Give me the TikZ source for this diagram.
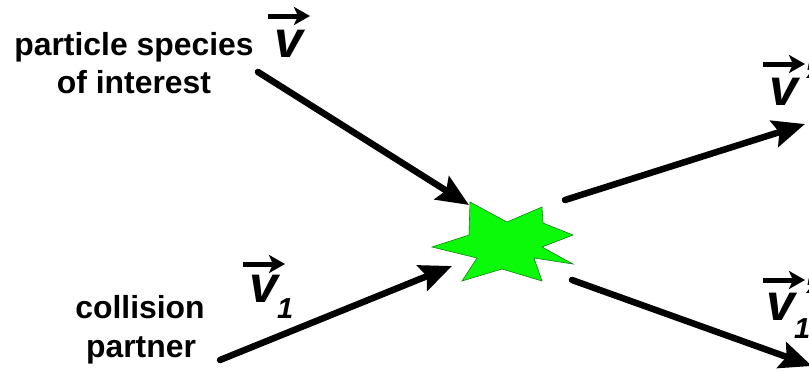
\documentclass[tikz,border=0pt]{standalone}
\usepackage{fontspec}
\setmainfont{Liberation Sans}
\usetikzlibrary{arrows.meta}
\definecolor{burstgreen}{RGB}{10,250,10}
\definecolor{burstedge}{RGB}{20,130,20}
\tikzset{
  lbl/.style={font=\fontsize{32}{32}\bfseries\selectfont,text=black,anchor=base,inner sep=0pt},
  vsym/.style={font=\fontsize{52}{52}\bfseries\itshape\selectfont,anchor=base west,inner sep=0pt},
  vsub/.style={font=\fontsize{29}{29}\bfseries\itshape\selectfont,anchor=base west,inner sep=0pt},
  flow/.style={line width=6.5bp,line cap=round,-{Stealth[length=32bp,width=27bp,inset=5bp]}},
  vec/.style={line width=5bp,-{Stealth[length=16bp,width=18bp,inset=4bp]}},
  burst/.style={draw=burstedge,line width=0.6bp,fill=burstgreen}
}
\begin{document}
\begin{tikzpicture}[x=1bp,y=-1bp]
\useasboundingbox (0,0) rectangle (809,371);
\clip (0,0) rectangle (809,371);
\fill[white] (0,0) rectangle (809,371);
% burst
\draw[burst] (470,202) -- (507,222) -- (542,207) -- (543,223) -- (573,235) -- (542,247) -- (573,264) -- (534,258) -- (542,281) -- (502,269) -- (462,281) -- (477,258) -- (432,247) -- (469,235) -- cycle;
% end points
\coordinate (aS) at (258,72);
\coordinate (aE) at (469,205);
\coordinate (bS) at (220,360);
\coordinate (bE) at (452,266);
\coordinate (cS) at (565,200);
\coordinate (cE) at (805,124);
\coordinate (dS) at (572,280);
\coordinate (dE) at (812,366);
\draw[flow] (aS) -- (aE);
\draw[flow] (bS) -- (bE);
\draw[flow] (cS) -- (cE);
\draw[flow] (dS) -- (dE);
% texts
\node[lbl] (t1) at (134,55) {particle species};
\node[lbl] (t2) at (134,93) {of interest};
\node[lbl] (t3) at (140,318) {collision};
\node[lbl] (t4) at (141,357) {partner};
% velocity symbols
\node[vsym] (v1) at (274,57) {v};
\node[vsym] (v2) at (769,105) {v};
\node[vsym] (v3) at (766,320) {v};
\node[vsym] (v4) at (249,302) {v};
\node[vsym] (d2) at (801,99) {'};
\node[vsym] (d3) at (801,314) {'};
\node[vsub] (s4) at (277,318) {1};
\node[vsub] (s3) at (794,338) {1};
\coordinate (p1) at (268,16);
\coordinate (q1) at (310,16);
\coordinate (p2) at (763,64);
\coordinate (q2) at (805,64);
\coordinate (p3) at (763,280);
\coordinate (q3) at (805,280);
\coordinate (p4) at (243,264);
\coordinate (q4) at (285,264);
\draw[vec] (p1) -- (q1);
\draw[vec] (p2) -- (q2);
\draw[vec] (p3) -- (q3);
\draw[vec] (p4) -- (q4);
\end{tikzpicture}
\end{document}
